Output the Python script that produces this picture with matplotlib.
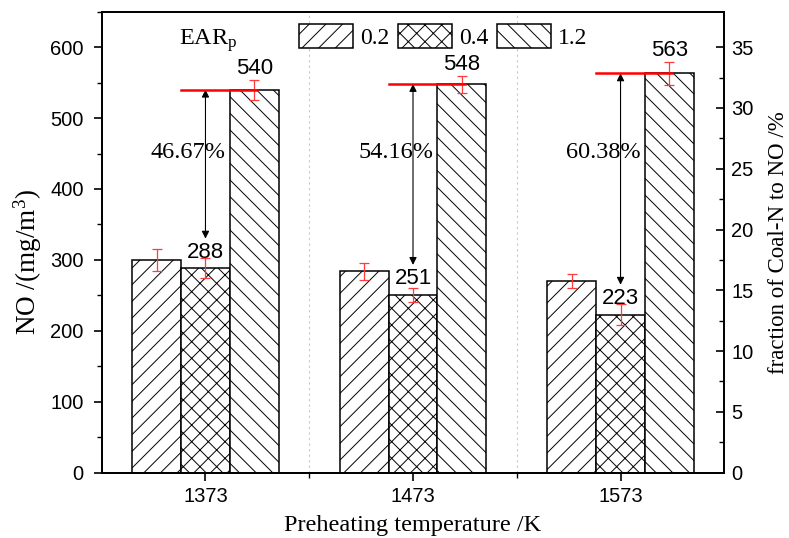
import matplotlib.pyplot as plt
import matplotlib.patches as mpatches
import numpy as np

plt.rcParams['font.family'] = ['Liberation Sans', 'DejaVu Sans']
plt.rcParams['mathtext.fontset'] = 'custom'
plt.rcParams['mathtext.rm'] = 'Liberation Serif'
plt.rcParams['mathtext.it'] = 'Liberation Serif:italic'
plt.rcParams['hatch.linewidth'] = 0.7

# data
temps = ['1373', '1473', '1573']
ear_labels = ['0.2', '0.4', '1.2']
no_02 = [300, 284, 270]
no_04 = [288, 251, 223]
no_12 = [540, 548, 563]
err_02 = [16, 12, 10]
err_04 = [14, 10, 15]
err_12 = [14, 12, 16]
reduction = ['46.67%', '54.16%', '60.38%']

serif = 'Liberation Serif'

fig = plt.figure(figsize=(7.89, 5.38), dpi=100)
ax = fig.add_axes([0.1289, 0.1214, 0.7891, 0.8569])

x = np.arange(len(temps))
w = 0.235
series = [no_02, no_04, no_12]
errs = [err_02, err_04, err_12]
hatches = ['//', 'xx', '\\\\']
handles = []
for i, (vals, e, h) in enumerate(zip(series, errs, hatches)):
    pos = x + (i - 1) * w
    ax.bar(pos, vals, w, color='white', edgecolor='black', hatch=h, linewidth=1.1, zorder=2)
    ax.errorbar(pos, vals, yerr=e, fmt='none', ecolor='#ff3b3b', elinewidth=0.9,
                capsize=3.5, capthick=0.9, zorder=4)
    handles.append(mpatches.Patch(facecolor='white', edgecolor='black', hatch=h, linewidth=1.1))

for i in range(len(temps)):
    # red reference line at the 1.2 level
    ax.plot([x[i] - w / 2, x[i] + w + 0.015], [no_12[i], no_12[i]], color='red', lw=1.8, zorder=5)
    # double arrow between 0.4 and 1.2
    ax.annotate('', xy=(x[i], no_12[i]), xytext=(x[i], no_04[i] + 42),
                arrowprops=dict(arrowstyle='<|-|>', color='black', lw=0.8,
                                mutation_scale=11, shrinkA=0, shrinkB=0), zorder=3)
    ax.text(x[i] - 0.082, 452, reduction[i], family=serif, fontsize=17.5,
            ha='center', va='center', zorder=3)
    ax.text(x[i], no_04[i] + 15, str(no_04[i]), fontsize=16, ha='center', va='baseline', zorder=3)
    ax.text(x[i] + w, no_12[i] + err_12[i] + 8, str(no_12[i]), fontsize=16,
            ha='center', va='baseline', zorder=3)

ax.set_xlim(-0.5, 2.5)
ax.set_ylim(0, 650)
ax.set_xticks(x)
ax.set_xticklabels(temps)
ax.set_xticks([0.5, 1.5], minor=True)
ax.set_yticks(np.arange(0, 601, 100))
ax.set_yticks(np.arange(50, 651, 100), minor=True)
ax.grid(which='minor', axis='x', ls=(0, (2, 3)), color='#c8c8c8', lw=0.8, zorder=0)
ax.tick_params(axis='both', which='major', labelsize=14.5, length=6, width=1.2, direction='out', pad=4)
ax.tick_params(axis='y', which='major', pad=7)
ax.tick_params(axis='both', which='minor', length=3.5, width=1.0, direction='out')
ax.tick_params(top=False, which='both')
for sp in ax.spines.values():
    sp.set_linewidth(1.3)

ax.set_xlabel('Preheating temperature /K', family=serif, fontsize=17.5, labelpad=7)
ax.set_ylabel(r'NO /(mg/m$^3$)', family=serif, fontsize=19.5)
ax.yaxis.set_label_coords(-0.092, 0.456)

ax2 = ax.twinx()
ax2.set_ylim(0, 650 * 35 / 600)
ax2.set_yticks(np.arange(0, 36, 5))
ax2.set_yticks(np.arange(2.5, 36, 5), minor=True)
ax2.tick_params(axis='y', which='major', labelsize=14.5, length=6, width=1.2, direction='in', pad=5)
ax2.tick_params(axis='y', which='minor', length=3.5, width=1.0, direction='in')
ax2.set_ylabel('fraction of Coal-N to NO /%', family=serif, fontsize=16.5, labelpad=10)
for sp in ax2.spines.values():
    sp.set_linewidth(1.3)

ax.text(0.124, 0.928, r'EAR$_\mathrm{p}$', transform=ax.transAxes, family=serif, fontsize=17.5,
        ha='left', va='baseline')
ax.legend(handles, ear_labels, ncol=3, frameon=False, loc='upper left',
          bbox_to_anchor=(299 / 789, 1 - 24 / 538), bbox_transform=fig.transFigure,
          prop={'family': serif, 'size': 17}, handlelength=2.3, handleheight=1.16,
          handletextpad=0.3, columnspacing=0.35, borderpad=0, borderaxespad=0)

fig.savefig('out.png', dpi=100)
